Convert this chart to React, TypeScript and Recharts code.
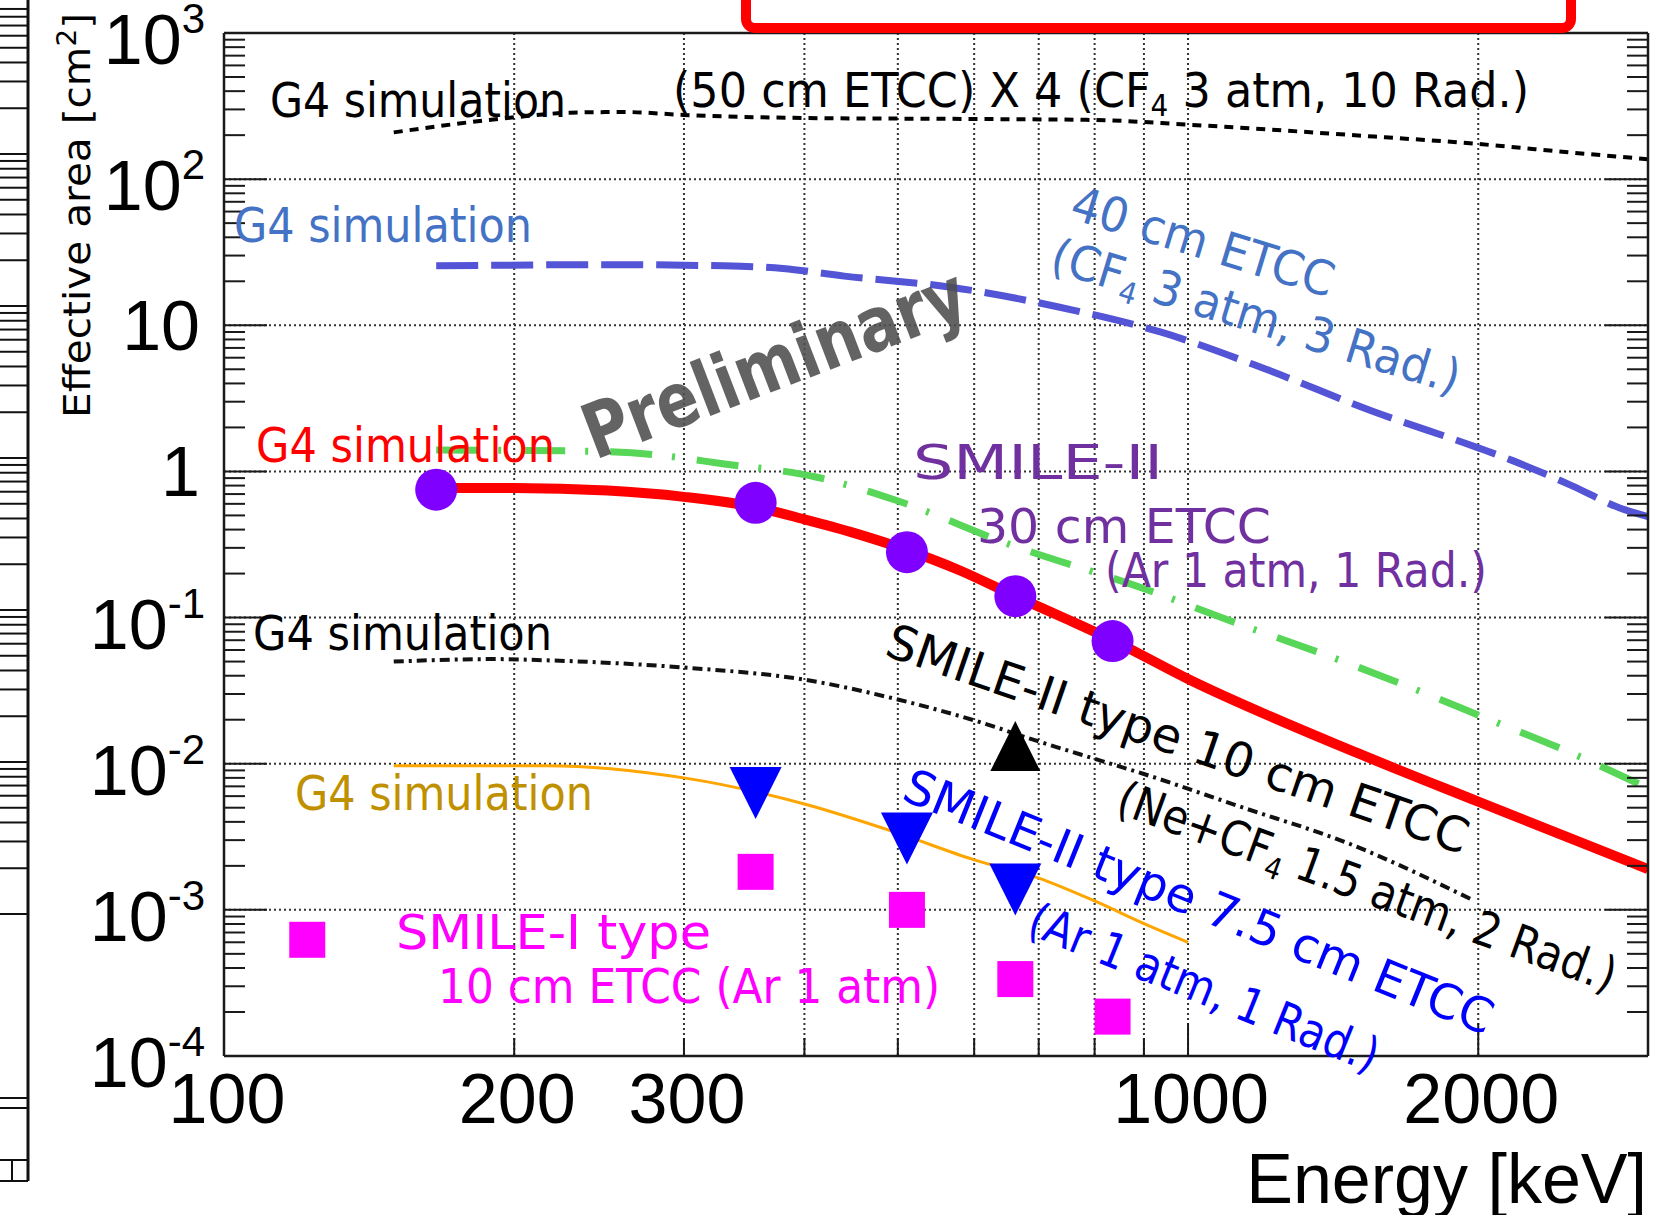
import React from 'react';
import { ComposedChart, Line, Scatter, XAxis, YAxis, CartesianGrid } from 'recharts';

// energies in keV, effective area in cm^2
const pt = (x: number, y: number) => ({ x, y });

const simEtcc50x4 = [
  pt(150, 209), pt(200, 265), pt(229, 285), pt(260, 288), pt(300, 275), pt(400, 262),
  pt(600, 258), pt(800, 254), pt(1000, 236), pt(1500, 199), pt(2000, 174), pt(2500, 152), pt(3000, 137),
];
const simEtcc40 = [
  pt(166, 25.5), pt(250, 26), pt(330, 25.5), pt(380, 24.5), pt(440, 21.7), pt(565, 18.3), pt(728, 13.5),
  pt(936, 9.0), pt(1205, 5.0), pt(1549, 2.6), pt(2000, 1.45), pt(2168, 1.19), pt(2500, 0.8), pt(2800, 0.565), pt(3000, 0.49),
];
const simSmile30Green = [
  pt(166, 1.4), pt(232, 1.38), pt(280, 1.3), pt(329, 1.13), pt(410, 0.92), pt(496, 0.64), pt(650, 0.32),
  pt(907, 0.155), pt(1111, 0.094), pt(1374, 0.057), pt(1668, 0.035), pt(2044, 0.0203), pt(2493, 0.0119), pt(3000, 0.0068),
];
const simSmile30 = [
  pt(166, 0.77), pt(200, 0.77), pt(250, 0.74), pt(300, 0.67), pt(356, 0.57), pt(400, 0.47), pt(450, 0.38),
  pt(511, 0.29), pt(580, 0.21), pt(662, 0.14), pt(750, 0.097), pt(835, 0.07), pt(1000, 0.038),
  pt(1500, 0.0118), pt(2000, 0.0055), pt(3000, 0.0019),
];
const simSmile10 = [
  pt(150, 0.05), pt(190, 0.052), pt(216, 0.051), pt(300, 0.0455), pt(400, 0.0376), pt(500, 0.0275),
  pt(600, 0.0198), pt(700, 0.0142), pt(800, 0.0108), pt(900, 0.0085), pt(1131, 0.0051), pt(1457, 0.0029), pt(1983, 0.00115),
];
const simSmile75 = [
  pt(150, 0.0097), pt(216, 0.0097), pt(300, 0.008), pt(400, 0.0053), pt(500, 0.00335), pt(600, 0.0022),
  pt(700, 0.00165), pt(800, 0.00115), pt(910, 0.00078), pt(1000, 0.0006),
];

const measSmile30 = [pt(166, 0.75), pt(356, 0.61), pt(511, 0.28), pt(662, 0.14), pt(835, 0.069)];
const measSmile10 = [pt(662, 0.0132)];
const measSmile75 = [pt(356, 0.0063), pt(511, 0.00308), pt(662, 0.00138)];
const measSmile1 = [pt(122, 0.000624), pt(356, 0.00182), pt(511, 0.001), pt(662, 0.000336), pt(835, 0.000186)];

const xDomain = [100, 3000];
const xTicks = [100, 200, 300, 400, 500, 600, 700, 800, 900, 1000, 2000, 3000];
const xLabelled = [100, 200, 300, 1000, 2000];
const xLong = [100, 1000, 2000];
const xGrid = [200, 300, 400, 500, 600, 700, 800, 900, 1000, 2000];

const yDomain = [1e-4, 1e3];
const yDecades = [1e-4, 1e-3, 1e-2, 1e-1, 1, 10, 100, 1000];
const yGrid = [1e-3, 1e-2, 1e-1, 1, 10, 100];
const yTicks = yDecades.flatMap((d, i) =>
  i === yDecades.length - 1 ? [d] : [1, 2, 3, 4, 5, 6, 7, 8, 9].map((m) => Number((d * m).toPrecision(3)))
);

const AXIS = '#1a1a1a';
const HELV = '"Liberation Sans", Arial, sans-serif';
const COMIC = '"DejaVu Sans", sans-serif';

const isDecade = (v: number) => Math.abs(Math.log10(v) - Math.round(Math.log10(v))) < 1e-6;

const LeftTick = ({ x, y, payload }: any) => {
  const v = payload.value;
  const major = isDecade(v);
  const e = Math.round(Math.log10(v));
  return (
    <g>
      <line x1={x} x2={x + (major ? 43 : 21)} y1={y} y2={y} stroke={AXIS} strokeWidth={2} />
      {major && (e === 0 || e === 1) && (
        <text x={x - 24} y={y + 25} textAnchor="end" fontSize={70} fontFamily={HELV} fill="#000">
          {e === 0 ? '1' : '10'}
        </text>
      )}
      {major && e !== 0 && e !== 1 && (
        <text x={x - 19} y={y + 31} textAnchor="end" fontSize={70} fontFamily={HELV} fill="#000">
          10<tspan dy={-31} fontSize={42}>{e}</tspan>
        </text>
      )}
    </g>
  );
};

const RightTick = ({ x, y, payload }: any) => (
  <line x1={x} x2={x - (isDecade(payload.value) ? 43 : 21)} y1={y} y2={y} stroke={AXIS} strokeWidth={2} />
);

const BottomTick = ({ x, y, payload }: any) => {
  const v = payload.value;
  return (
    <g>
      <line x1={x} x2={x} y1={y} y2={y - (xLong.includes(v) ? 33 : 18)} stroke={AXIS} strokeWidth={2} />
      {xLabelled.includes(v) && (
        <text x={x + 3} y={y + 67} textAnchor="middle" fontSize={70} fontFamily={HELV} fill="#000">
          {v}
        </text>
      )}
    </g>
  );
};

const Dot = ({ cx, cy }: any) => <circle cx={cx} cy={cy} r={21} fill="#8000ff" />;
const TriDown = ({ cx, cy }: any) => (
  <polygon points={`${cx - 26},${cy - 26} ${cx + 26},${cy - 26} ${cx},${cy + 26}`} fill="#0000ff" />
);
const TriUp = ({ cx, cy }: any) => (
  <polygon points={`${cx - 25},${cy + 25} ${cx + 25},${cy + 25} ${cx},${cy - 25}`} fill="#000" />
);
const Square = ({ cx, cy }: any) => <rect x={cx - 18} y={cy - 18} width={36} height={36} fill="#ff00ff" />;

const Note = ({ x, y, angle = 0, size = 48, color = '#000', len, weight = 400, opacity = 1, children }: any) => (
  <text
    x={x}
    y={y}
    transform={angle ? `rotate(${angle} ${x} ${y})` : undefined}
    fill={color}
    fillOpacity={opacity}
    fontSize={size}
    fontWeight={weight}
    fontFamily={COMIC}
    textLength={len}
    lengthAdjust="spacingAndGlyphs"
  >
    {children}
  </text>
);

const Sub = ({ children }: any) => (
  <>
    <tspan dy={9} fontSize={30}>{children}</tspan>
    <tspan dy={-9}> </tspan>
  </>
);

// neighbouring panel peeking in at the left edge
const stripDecades = [2, 154, 306, 458, 610, 762];
const StripTicks = () => (
  <g stroke="#111" strokeWidth={2}>
    <line x1={28} x2={28} y1={0} y2={1181} strokeWidth={3} />
    {stripDecades.flatMap((d) =>
      [1, 2, 3, 4, 5, 6, 7, 8, 9].map((m) => {
        const yy = d - 152 * Math.log10(m) + 152;
        return <line key={`${d}-${m}`} x1={0} x2={28} y1={yy} y2={yy} />;
      })
    )}
    <line x1={0} x2={28} y1={1098} y2={1098} />
    <line x1={0} x2={28} y1={1108} y2={1108} />
    <line x1={0} x2={28} y1={1160} y2={1160} />
    <line x1={0} x2={28} y1={1181} y2={1181} />
    <line x1={12} x2={12} y1={1160} y2={1181} />
  </g>
);

export default function App() {
  return (
    <div style={{ position: 'relative', width: 1654, height: 1215, background: '#fff' }}>
      <style>{'body{margin:0}'}</style>
      <ComposedChart width={1654} height={1215} margin={{ top: 32, right: 5, bottom: 158, left: 223 }}>
        <XAxis xAxisId="g" type="number" dataKey="x" scale="log" domain={xDomain} ticks={xGrid} interval={0} allowDataOverflow hide />
        <YAxis yAxisId="g" type="number" dataKey="y" scale="log" domain={yDomain} ticks={yGrid} interval={0} allowDataOverflow hide />
        <CartesianGrid xAxisId="g" yAxisId="g" stroke="#333" strokeWidth={2} strokeDasharray="2 3" />
        <XAxis
          type="number"
          dataKey="x"
          scale="log"
          domain={xDomain}
          ticks={xTicks}
          interval={0}
          allowDataOverflow
          height={1}
          tickSize={0}
          tickMargin={0}
          tickLine={false}
          axisLine={{ stroke: AXIS, strokeWidth: 2.5 }}
          tick={<BottomTick />}
        />
        <XAxis
          xAxisId="top"
          orientation="top"
          type="number"
          dataKey="x"
          scale="log"
          domain={xDomain}
          allowDataOverflow
          height={1}
          tick={false}
          tickLine={false}
          axisLine={{ stroke: AXIS, strokeWidth: 2.5 }}
        />
        <YAxis
          type="number"
          dataKey="y"
          scale="log"
          domain={yDomain}
          ticks={yTicks}
          interval={0}
          allowDataOverflow
          width={1}
          tickSize={0}
          tickMargin={0}
          tickLine={false}
          axisLine={{ stroke: AXIS, strokeWidth: 2.5 }}
          tick={<LeftTick />}
        />
        <YAxis
          yAxisId="r"
          orientation="right"
          type="number"
          dataKey="y"
          scale="log"
          domain={yDomain}
          ticks={yTicks}
          interval={0}
          allowDataOverflow
          width={1}
          tickSize={0}
          tickMargin={0}
          tickLine={false}
          axisLine={{ stroke: AXIS, strokeWidth: 2.5 }}
          tick={<RightTick />}
        />

        <Line data={simEtcc50x4} dataKey="y" type="monotone" stroke="#000" strokeWidth={4} strokeDasharray="9 7" dot={false} isAnimationActive={false} />
        <Line data={simEtcc40} dataKey="y" type="monotone" stroke="#5454d6" strokeWidth={7} strokeDasharray="42 13" dot={false} isAnimationActive={false} />
        <Line data={simSmile30Green} dataKey="y" type="monotone" stroke="#57d657" strokeWidth={7} strokeDasharray="42 20 3 22" dot={false} isAnimationActive={false} />
        <Line data={simSmile10} dataKey="y" type="monotone" stroke="#111" strokeWidth={4} strokeDasharray="10 5 3 5" dot={false} isAnimationActive={false} />
        <Line data={simSmile75} dataKey="y" type="monotone" stroke="#ffa500" strokeWidth={3} dot={false} isAnimationActive={false} />
        <Line data={simSmile30} dataKey="y" type="monotone" stroke="#ff0000" strokeWidth={10} dot={false} isAnimationActive={false} />

        <Scatter data={measSmile1} dataKey="y" shape={<Square />} isAnimationActive={false} />
        <Scatter data={measSmile75} dataKey="y" shape={<TriDown />} isAnimationActive={false} />
        <Scatter data={measSmile10} dataKey="y" shape={<TriUp />} isAnimationActive={false} />
        <Scatter data={measSmile30} dataKey="y" shape={<Dot />} isAnimationActive={false} />
      </ComposedChart>

      <svg width={1654} height={1215} style={{ position: 'absolute', left: 0, top: 0, pointerEvents: 'none' }}>
        <StripTicks />
        <rect x={746} y={-20} width={825} height={48} rx={9} fill="#fff" stroke="#ff0000" strokeWidth={10} />

        <text transform="translate(90,418) rotate(-90)" fontSize={38} fontFamily={COMIC} textLength={405} lengthAdjust="spacingAndGlyphs">
          Effective area [cm<tspan dy={-14} fontSize={26}>2</tspan>
          <tspan dy={14}>]</tspan>
        </text>
        <text x={1647} y={1203} textAnchor="end" fontSize={70} fontFamily={HELV}>
          Energy [keV]
        </text>

        <Note x={270} y={117} len={296}>G4 simulation</Note>
        <Note x={673} y={107} len={856}>
          (50 cm ETCC) X 4 (CF<Sub>4</Sub>3 atm, 10 Rad.)
        </Note>

        <Note x={234} y={242} color="#4472c4" len={298}>G4 simulation</Note>
        <Note x={1068} y={218} angle={17} color="#4472c4" len={272}>40 cm ETCC</Note>
        <Note x={1048} y={270} angle={17} color="#4472c4" len={425}>
          (CF<Sub>4</Sub>3 atm, 3 Rad.)
        </Note>

        <Note x={256} y={462} color="#ff0000" len={299}>G4 simulation</Note>
        <Note x={595} y={460} angle={-21} size={76} weight={700} color="#4d4d4d" opacity={0.88} len={404}>
          Preliminary
        </Note>

        <Note x={913} y={479} color="#7030a0" len={250}>SMILE-II</Note>
        <Note x={977} y={543} color="#7030a0" len={294}>30 cm ETCC</Note>
        <Note x={1105} y={587} color="#7030a0" len={382}>(Ar 1 atm, 1 Rad.)</Note>

        <Note x={253} y={650} len={299}>G4 simulation</Note>
        <Note x={883} y={655} angle={19} len={612}>SMILE-II type 10 cm ETCC</Note>
        <Note x={1114} y={812} angle={20} len={527}>
          (Ne+CF<Sub>4</Sub>1.5 atm, 2 Rad.)
        </Note>

        <Note x={295} y={810} color="#bf9000" len={298}>G4 simulation</Note>
        <Note x={900} y={799} angle={22} color="#0000ff" len={631}>SMILE-II type 7.5 cm ETCC</Note>
        <Note x={1025} y={933} angle={22} color="#0000ff" len={373}>(Ar 1 atm, 1 Rad.)</Note>

        <Note x={396} y={949} color="#ff00ff" len={315}>SMILE-I type</Note>
        <Note x={438} y={1003} color="#ff00ff" len={502}>10 cm ETCC (Ar 1 atm)</Note>
      </svg>
    </div>
  );
}
